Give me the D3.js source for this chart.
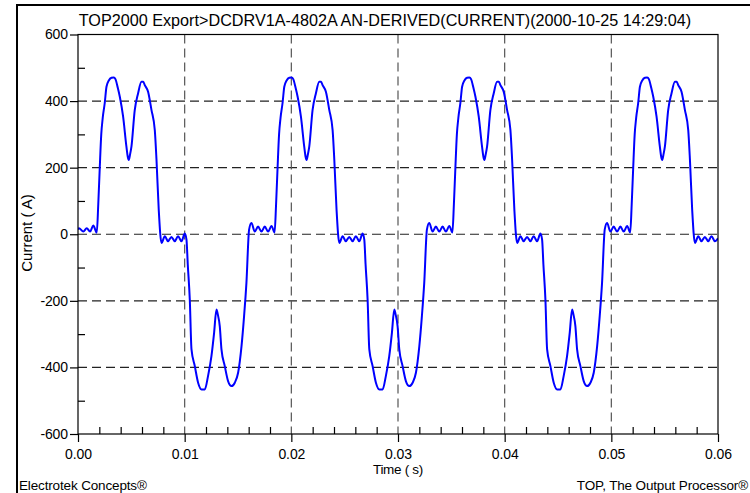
<!DOCTYPE html>
<html>
<head>
<meta charset="utf-8">
<script src="https://cdn.jsdelivr.net/npm/d3@7"></script>
<style>
  html, body { margin: 0; padding: 0; background: #fff; }
  svg { display: block; }
  text { font-family: "Liberation Sans", Arial, sans-serif; fill: #000; }
</style>
</head>
<body>
<svg id="chart" width="750" height="493"></svg>
<script>
// Derived current waveform, sampled time (ms) and current (A)
const timeMs = [
  0.00, 0.09, 0.50, 0.82, 1.13, 1.43,
  1.76, 1.90, 2.04, 2.18, 2.32, 2.51, 2.67, 2.89, 3.14, 3.35, 3.51, 3.73, 3.92, 4.23, 4.54, 4.67, 4.76, 4.87, 5.01, 5.32, 5.63, 5.95, 6.12, 6.26, 6.57, 6.89, 7.20, 7.36, 7.57, 7.83, 8.14, 8.44, 8.76, 9.07, 9.38, 9.70,
  10.01, 10.17, 10.29, 10.48, 10.64, 10.95, 11.26, 11.58, 11.89, 12.19, 12.51, 12.76, 12.98, 13.10, 13.29, 13.45, 13.76, 14.07, 14.39, 14.70, 15.01, 15.33, 15.57, 15.79, 16.04, 16.26, 16.57, 16.88, 17.20, 17.51, 17.82, 18.14,
  18.43, 18.57, 18.71, 18.85, 18.99, 19.18, 19.34, 19.56, 19.81, 20.02, 20.18, 20.40, 20.59, 20.90, 21.21, 21.34, 21.43, 21.54, 21.68, 21.99, 22.30, 22.62, 22.79, 22.93, 23.24, 23.56, 23.87, 24.03, 24.24, 24.50, 24.81, 25.11, 25.43, 25.74, 26.05, 26.37,
  26.68, 26.84, 26.96, 27.15, 27.31, 27.62, 27.93, 28.25, 28.56, 28.86, 29.18, 29.43, 29.65, 29.77, 29.96, 30.12, 30.43, 30.74, 31.06, 31.37, 31.68, 32.00, 32.24, 32.46, 32.71, 32.93, 33.24, 33.55, 33.87, 34.18, 34.49, 34.81,
  35.10, 35.24, 35.38, 35.52, 35.66, 35.85, 36.01, 36.23, 36.48, 36.69, 36.85, 37.07, 37.26, 37.57, 37.88, 38.01, 38.10, 38.21, 38.35, 38.66, 38.97, 39.29, 39.46, 39.60, 39.91, 40.23, 40.54, 40.70, 40.91, 41.17, 41.48, 41.78, 42.10, 42.41, 42.72, 43.04,
  43.35, 43.51, 43.63, 43.82, 43.98, 44.29, 44.60, 44.92, 45.23, 45.53, 45.85, 46.10, 46.32, 46.44, 46.63, 46.79, 47.10, 47.41, 47.73, 48.04, 48.35, 48.67, 48.91, 49.13, 49.38, 49.60, 49.91, 50.22, 50.54, 50.85, 51.16, 51.48,
  51.77, 51.91, 52.05, 52.19, 52.33, 52.52, 52.68, 52.90, 53.15, 53.36, 53.52, 53.74, 53.93, 54.24, 54.55, 54.68, 54.77, 54.88, 55.02, 55.33, 55.64, 55.96, 56.13, 56.27, 56.58, 56.90, 57.21, 57.37, 57.58, 57.84, 58.15, 58.45, 58.77, 59.08, 59.39, 59.71,
  60.00
];
const currentA = [
  14, 18, 8, 18, 8, 26,
  5, 90, 200, 300, 350, 395, 443, 462, 470, 471, 466, 440, 413, 353, 263, 232, 223, 238, 263, 373, 423, 458, 458, 448, 428, 373, 313, 223, 73, -26, -6, -21, -8, -21, -6, -21,
  2, -16, -90, -196, -346, -396, -446, -466, -466, -426, -366, -296, -226, -240, -276, -346, -396, -441, -456, -446, -416, -336, -246, -146, 14, 34, 8, 23, 8, 23, 8, 25,
  5, 90, 200, 300, 350, 395, 443, 462, 470, 471, 466, 440, 413, 353, 263, 232, 223, 238, 263, 373, 423, 458, 458, 448, 428, 373, 313, 223, 73, -26, -6, -21, -8, -21, -6, -21,
  2, -16, -90, -196, -346, -396, -446, -466, -466, -426, -366, -296, -226, -240, -276, -346, -396, -441, -456, -446, -416, -336, -246, -146, 14, 34, 8, 23, 8, 23, 8, 25,
  5, 90, 200, 300, 350, 395, 443, 462, 470, 471, 466, 440, 413, 353, 263, 232, 223, 238, 263, 373, 423, 458, 458, 448, 428, 373, 313, 223, 73, -26, -6, -21, -8, -21, -6, -21,
  2, -16, -90, -196, -346, -396, -446, -466, -466, -426, -366, -296, -226, -240, -276, -346, -396, -441, -456, -446, -416, -336, -246, -146, 14, 34, 8, 23, 8, 23, 8, 25,
  5, 90, 200, 300, 350, 395, 443, 462, 470, 471, 466, 440, 413, 353, 263, 232, 223, 238, 263, 373, 423, 458, 458, 448, 428, 373, 313, 223, 73, -26, -6, -21, -8, -21, -6, -21,
  -12
];

const xMajorTicks = [0, 0.01, 0.02, 0.03, 0.04, 0.05, 0.06];
const xMinorTicks = [0.002, 0.004, 0.006, 0.008, 0.012, 0.014, 0.016, 0.018, 0.022, 0.024, 0.026, 0.028,
  0.032, 0.034, 0.036, 0.038, 0.042, 0.044, 0.046, 0.048, 0.052, 0.054, 0.056, 0.058];
const yMajorTicks = [-600, -400, -200, 0, 200, 400, 600];
const yMinorTicks = [-500, -300, -100, 100, 300, 500];
const xGrid = [0.01, 0.02, 0.03, 0.04, 0.05];
const yGrid = [-400, -200, 0, 200, 400];

const titleText = "TOP2000 Export>DCDRV1A-4802A AN-DERIVED(CURRENT)(2000-10-25 14:29:04)";
const xLabel = "Time ( s)";
const yLabel = "Current ( A)";
const footLeft = "Electrotek Concepts®";
const footRight = "TOP, The Output Processor®";

const svg = d3.select("#chart");
const plot = { left: 78, top: 34.5, right: 718, bottom: 434 };

const x = d3.scaleLinear().domain([0, 0.06]).range([plot.left, plot.right]);
const y = d3.scaleLinear().domain([-600, 600]).range([plot.bottom, plot.top]);

// Outer frame (top and left edges)
svg.append("path")
  .attr("d", `M17,493 L17,5 L750,5`)
  .attr("fill", "none").attr("stroke", "#000").attr("stroke-width", 2);

// Title
svg.append("text")
  .attr("x", 385).attr("y", 25.5)
  .attr("text-anchor", "middle")
  .style("font-size", "16.2px")
  .text(titleText);

// Grid lines
svg.append("g").selectAll("line").data(yGrid).join("line")
  .attr("x1", plot.left).attr("x2", plot.right)
  .attr("y1", d => y(d)).attr("y2", d => y(d))
  .attr("stroke", "#222").attr("stroke-width", 1.2)
  .attr("stroke-dasharray", "9,5");
svg.append("g").selectAll("line").data(xGrid).join("line")
  .attr("x1", d => x(d)).attr("x2", d => x(d))
  .attr("y1", plot.top).attr("y2", plot.bottom)
  .attr("stroke", "#555").attr("stroke-width", 1.2)
  .attr("stroke-dasharray", "9,5");

// Waveform
svg.append("clipPath").attr("id", "clip")
  .append("rect")
  .attr("x", plot.left).attr("y", plot.top)
  .attr("width", plot.right - plot.left).attr("height", plot.bottom - plot.top);

const points = timeMs.map((t, i) => [t / 1000, currentA[i]]);
const line = d3.line()
  .x(d => x(d[0]))
  .y(d => y(d[1]))
  .curve(d3.curveMonotoneX);

svg.append("path")
  .datum(points)
  .attr("clip-path", "url(#clip)")
  .attr("d", line)
  .attr("fill", "none")
  .attr("stroke", "#0000ff")
  .attr("stroke-width", 2)
  .attr("stroke-linejoin", "round");

// Plot border
svg.append("rect")
  .attr("x", plot.left).attr("y", plot.top)
  .attr("width", plot.right - plot.left).attr("height", plot.bottom - plot.top)
  .attr("fill", "none").attr("stroke", "#000").attr("stroke-width", 1.2);

function styleAxis(g) {
  g.select(".domain").remove();
  g.selectAll(".tick line").attr("stroke", "#000").attr("stroke-width", 1.2);
  g.selectAll(".tick text").style("font-size", "14px").attr("fill", "#000")
    .style("font-family", "\"Liberation Sans\", Arial, sans-serif")
    .style("letter-spacing", "-0.1px");
}

// Y axis: major ticks outward with labels, minor ticks inward
svg.append("g")
  .attr("transform", `translate(${plot.left},0)`)
  .call(d3.axisLeft(y).tickValues(yMajorTicks).tickSize(8).tickPadding(2)
    .tickFormat(d => String(d)))
  .call(styleAxis);
svg.append("g")
  .attr("transform", `translate(${plot.left},0)`)
  .call(d3.axisRight(y).tickValues(yMinorTicks).tickSize(7).tickFormat(""))
  .call(styleAxis);

// X axis: major ticks outward with labels, minor ticks inward
svg.append("g")
  .attr("transform", `translate(0,${plot.bottom})`)
  .call(d3.axisBottom(x).tickValues(xMajorTicks).tickSize(8).tickPadding(7)
    .tickFormat(d => d.toFixed(2)))
  .call(styleAxis);
svg.append("g")
  .attr("transform", `translate(0,${plot.bottom})`)
  .call(d3.axisTop(x).tickValues(xMinorTicks).tickSize(7).tickFormat(""))
  .call(styleAxis);

// Axis titles
svg.append("text")
  .attr("x", 398).attr("y", 474)
  .attr("text-anchor", "middle")
  .style("font-size", "13.5px").style("letter-spacing", "-0.3px")
  .text(xLabel);
svg.append("text")
  .attr("transform", `translate(32,233) rotate(-90)`)
  .attr("text-anchor", "middle")
  .style("font-size", "15px")
  .text(yLabel);

// Footer credits
svg.append("text")
  .attr("x", 19).attr("y", 490)
  .style("font-size", "13.5px").style("letter-spacing", "-0.15px")
  .text(footLeft);
svg.append("text")
  .attr("x", 748).attr("y", 490)
  .attr("text-anchor", "end")
  .style("font-size", "13.5px").style("letter-spacing", "-0.15px")
  .text(footRight);
</script>
</body>
</html>
